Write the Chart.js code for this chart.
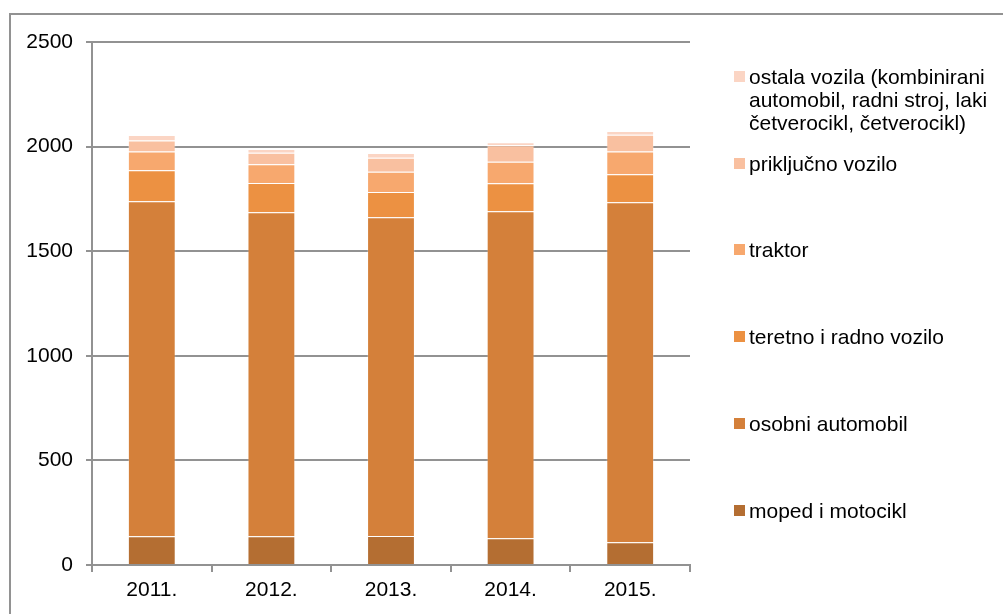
<!DOCTYPE html>
<html>
<head>
<meta charset="utf-8">
<script src="https://cdn.jsdelivr.net/npm/chart.js@4/dist/chart.umd.min.js"></script>
<style>
  html, body { margin: 0; padding: 0; background: #fff; }
  #wrap { position: relative; width: 1003px; height: 614px; overflow: hidden; font-family: "Liberation Sans", Arial, sans-serif; }
  #frame { position: absolute; left: 9px; top: 13px; width: 1100px; height: 700px; border-left: 2px solid #929292; border-top: 2px solid #929292; box-sizing: border-box; pointer-events: none; }
  canvas { position: absolute; left: 0; top: 0; }
  .lg { position: absolute; left: 734px; font-size: 21px; line-height: 23px; color: #000; }
  .lg .sw { position: absolute; left: 0; width: 11px; height: 11px; }
  .lg .tx { position: absolute; left: 15px; width: 245px; white-space: normal; }
</style>
</head>
<body>
<div id="wrap">
  <canvas id="c" width="1003" height="614"></canvas>
  <div id="frame"></div>
</div>
<script>
const categories = ["2011.", "2012.", "2013.", "2014.", "2015."];
const seriesNames = [
  "moped i motocikl",
  "osobni automobil",
  "teretno i radno vozilo",
  "traktor",
  "priključno vozilo",
  "ostala vozila (kombinirani automobil, radni stroj, laki četverocikl, četverocikl)"
];
const mopedMotocikl   = [137, 137, 139, 128, 109];
const osobniAutomobil = [1602, 1549, 1523, 1563, 1625];
const teretnoRadno    = [148, 140, 121, 134, 134];
const traktor         = [89, 90, 97, 103, 108];
const prikljucno      = [53, 55, 67, 79, 81];
const ostala          = [27, 18, 23, 14, 18];
const yTicks = [0, 500, 1000, 1500, 2000, 2500];

const seriesValues = [mopedMotocikl, osobniAutomobil, teretnoRadno, traktor, prikljucno, ostala];
const colors = ["#B46E32", "#D4803A", "#EC9142", "#F7A86E", "#F9C0A0", "#FBD5C4"];

const datasets = seriesNames.map((n, i) => ({
  label: n,
  data: seriesValues[i],
  backgroundColor: colors[i],
  borderColor: "rgba(255,255,255,0.22)",
  borderWidth: 1,
  borderSkipped: "start",
  categoryPercentage: 1.0,
  barPercentage: 0.4
}));

const font = { family: "'Liberation Sans', Arial, sans-serif", size: 21 };

const chart = new Chart(document.getElementById("c"), {
  type: "bar",
  data: { labels: categories, datasets },
  options: {
    responsive: false,
    animation: false,
    devicePixelRatio: 1,
    layout: { padding: { left: 10, top: 42, right: 313, bottom: 0 } },
    plugins: { legend: { display: false }, tooltip: { enabled: false } },
    scales: {
      x: {
        stacked: true,
        grid: { offset: true, drawOnChartArea: false, drawTicks: true, tickLength: 7, color: "#929292", lineWidth: 2 },
        border: { display: true, color: "#929292", width: 2 },
        ticks: { color: "#000", font, padding: 6, maxRotation: 0 },
        afterFit: s => { s.height = 49; }
      },
      y: {
        stacked: true,
        min: 0,
        max: 2500,
        afterBuildTicks: s => { s.ticks = yTicks.map(v => ({ value: v })); },
        grid: { color: "#929292", lineWidth: 2, tickLength: 6 },
        border: { display: true, color: "#929292", width: 2 },
        ticks: { color: "#000", font, padding: 13, callback: v => String(v) },
        afterFit: s => { s.width = 82; }
      }
    }
  }
});

// HTML legend built from the chart's datasets (reversed order, like the reference)
const legendTops = [65, 152, 238, 325, 412, 499];
const wrap = document.getElementById("wrap");
chart.data.datasets.slice().reverse().forEach((ds, i) => {
  const item = document.createElement("div");
  item.className = "lg";
  item.style.top = legendTops[i] + "px";
  const sw = document.createElement("div");
  sw.className = "sw";
  sw.style.top = "6px";
  sw.style.background = ds.backgroundColor;
  const tx = document.createElement("div");
  tx.className = "tx";
  tx.textContent = ds.label;
  item.appendChild(sw);
  item.appendChild(tx);
  wrap.appendChild(item);
});
</script>
</body>
</html>
